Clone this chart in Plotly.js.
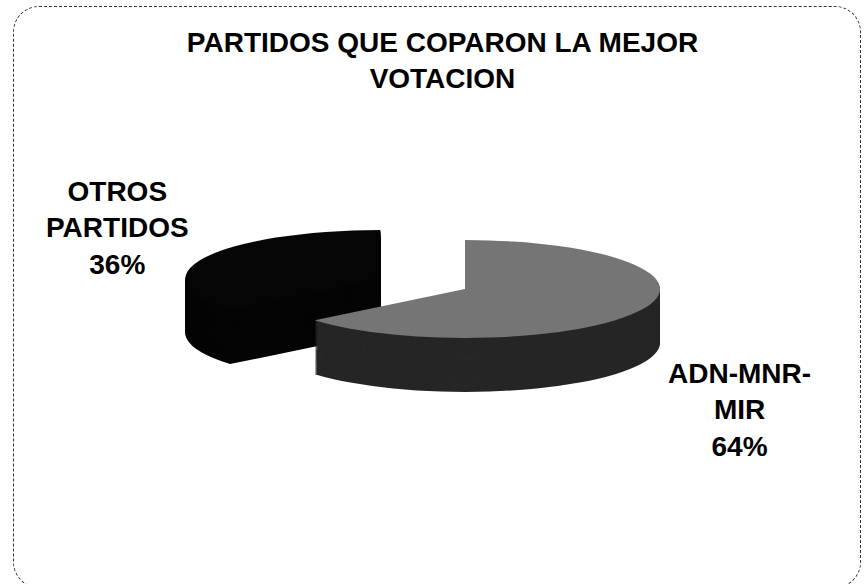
<!DOCTYPE html>
<html>
<head>
<meta charset="utf-8">
<script src="https://cdn.plot.ly/plotly-3.0.1.min.js"></script>
<style>
  html, body { margin: 0; padding: 0; background: #fff; }
  #wrap { position: relative; width: 865px; height: 584px; overflow: hidden; }
  #chart { position: absolute; left: 0; top: 0; width: 865px; height: 584px; }
  #frame { position: absolute; left: 13px; top: 6px; width: 848px; height: 582px;
           border: 1px dashed #333; border-radius: 26px; pointer-events: none; box-sizing: border-box; }
</style>
</head>
<body>
<div id="wrap">
  <div id="chart"></div>
  <div id="frame"></div>
</div>
<script>
// ---- data ----
const labels = ['ADN-MNR-MIR', 'OTROS PARTIDOS'];
const labelLines = ['ADN-MNR-<br>MIR', 'OTROS<br>PARTIDOS'];
const values = [64, 36];
const pulls = [0, 0.48];
const topColors = ['#757575', '#050505'];
const sideColors = ['#262626', '#050505'];
const titleText = 'PARTIDOS QUE COPARON LA MEJOR<br>VOTACION';

// ---- geometry of the tilted pie (presentation only) ----
const W = 865, H = 584;
const box = 296;               // pie box (pre-tilt) in px
const cxPre = 432.5;           // pre-tilt centre x
const topPre = 100;            // pre-tilt top of uppermost layer box
const depthPre = 110;          // pre-tilt thickness
const step = 2;
const nLayers = Math.round(depthPre / step) + 1;
const rPre = box / 2 / (1 + Math.max(...pulls));
const screenCx = 465, screenCy = 289, screenRx = 195, screenRy = 49;
const sx = screenRx / rPre, sy = screenRy / rPre;
const tx = screenCx - sx * cxPre;
const ty = screenCy - sy * (topPre + box / 2);

const data = [];
for (let k = nLayers - 1; k >= 0; k--) {
  const top = topPre + k * step;
  data.push({
    type: 'pie',
    labels: labels,
    values: values,
    pull: pulls,
    sort: false,
    direction: 'clockwise',
    rotation: 0,
    textinfo: 'none',
    hoverinfo: 'skip',
    showlegend: false,
    marker: { colors: k === 0 ? topColors : sideColors, line: { width: 0 } },
    domain: {
      x: [(cxPre - box / 2) / W, (cxPre + box / 2) / W],
      y: [1 - (top + box) / H, 1 - top / H]
    }
  });
}

const total = values.reduce((a, b) => a + b, 0);
const pct = values.map(v => Math.round(v / total * 100) + '%');
const labelPos = [[739 / W, 1 - 410 / H], [118 / W, 1 - 228 / H]];
const labelFont = { family: 'Liberation Sans, Arial, sans-serif', size: 28, color: '#000', weight: 'bold' };

const annotations = labels.map((l, i) => ({
  xref: 'paper', yref: 'paper',
  x: labelPos[i][0], y: labelPos[i][1],
  xanchor: 'center', yanchor: 'middle',
  text: labelLines[i] + '<br>' + pct[i],
  align: 'center',
  showarrow: false,
  font: labelFont
}));

const layout = {
  width: W, height: H,
  margin: { l: 0, r: 0, t: 0, b: 0 },
  paper_bgcolor: '#fff',
  plot_bgcolor: '#fff',
  title: {
    text: titleText,
    x: 442.5 / W, xanchor: 'center', xref: 'paper',
    y: 1 - 52 / H, yanchor: 'middle', yref: 'container',
    font: { family: 'Liberation Sans, Arial, sans-serif', size: 28, color: '#000', weight: 'bold' }
  },
  annotations: annotations
};

Plotly.newPlot('chart', data, layout, { staticPlot: true, displayModeBar: false }).then(gd => {
  const pl = gd.querySelector('.pielayer');
  if (pl) pl.setAttribute('transform', `matrix(${sx},0,0,${sy},${tx},${ty})`);
});
</script>
</body>
</html>
